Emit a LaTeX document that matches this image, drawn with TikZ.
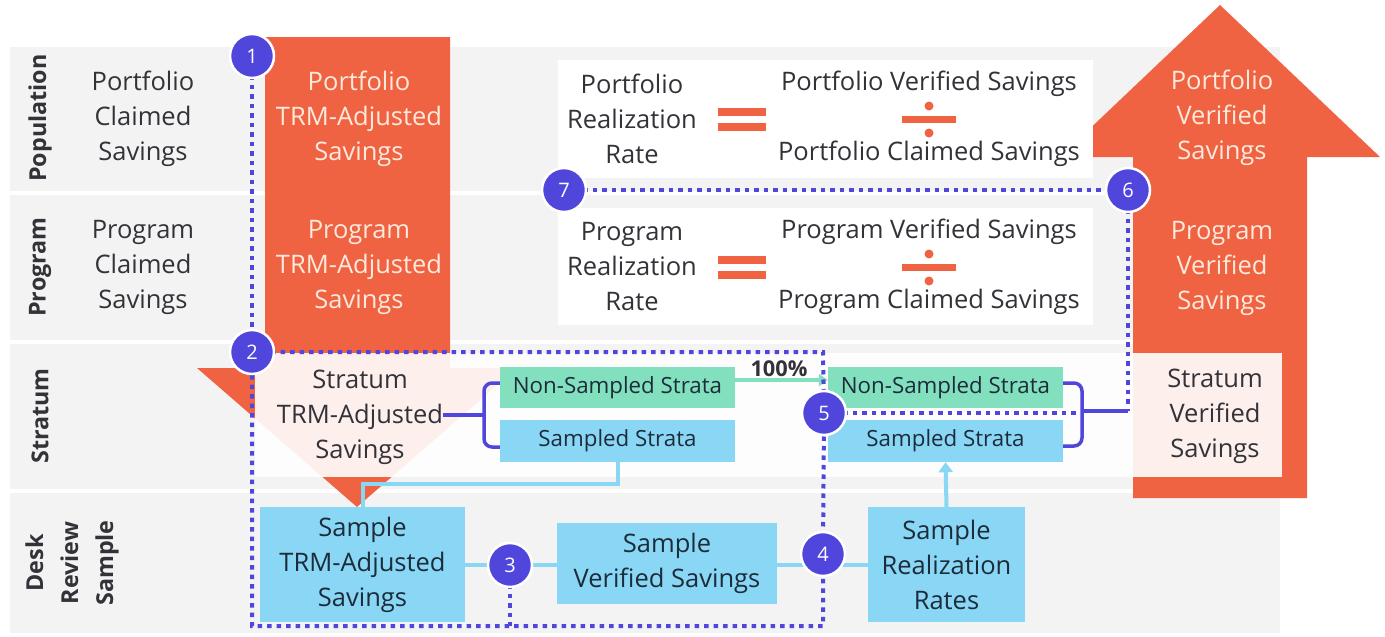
\documentclass[tikz,border=0pt]{standalone}
\usepackage{fontspec}
\setmainfont{Open Sans}
\usetikzlibrary{arrows.meta}
\definecolor{bandgray}{RGB}{243,243,243}
\definecolor{orng}{RGB}{239,99,67}
\definecolor{cream}{RGB}{253,234,220}
\definecolor{purp}{RGB}{80,70,220}
\definecolor{mint}{RGB}{130,224,190}
\definecolor{lblue}{RGB}{137,214,245}
\definecolor{txtdark}{RGB}{50,50,56}
\definecolor{navy}{RGB}{28,44,58}
\begin{document}
\begin{tikzpicture}[x=1pt,y=-1pt,
  txt/.style={align=center,inner sep=0pt,text=txtdark,font=\fontsize{25.5}{35}\selectfont},
  wtxt/.style={txt,text=cream},
  rowlab/.style={align=center,inner sep=0pt,text=txtdark,rotate=90,font=\fontsize{23.3}{35}\selectfont\bfseries},
  bbox/.style={txt,text=navy,fill=lblue,minimum width=#1},
  sbox/.style={bbox=#1,font=\fontsize{22.3}{30}\selectfont},
  gbox/.style={sbox=#1,fill=mint},
  num/.style={circle,fill=purp,draw=white,line width=2.5pt,minimum size=44pt,inner sep=0pt,text=white,font=\fontsize{20}{20}\selectfont},
  dots/.style={purp,line width=4pt,dash pattern=on 4.5pt off 5pt},
  conn/.style={lblue,line width=4pt},
  brace/.style={purp,line width=3.5pt,rounded corners=8pt}
]
\useasboundingbox (0,0) rectangle (1385,637);
\fill[white] (0,0) rectangle (1385,637);
% bands
\fill[bandgray] (10,47) rectangle (1280,191);
\fill[bandgray] (10,195) rectangle (1280,340);
\fill[bandgray] (10,344) rectangle (1280,489);
\fill[bandgray] (10,493) rectangle (1280,633);
% orange down arrow
\fill[orng] (265,37) -- (450,37) -- (450,368) -- (517,368) -- (357,507) -- (197,368) -- (265,368) -- cycle;
% orange up arrow
\fill[orng] (1133,498) -- (1133,157) -- (1060,157) -- (1220,5) -- (1380,157) -- (1307,157) -- (1307,498) -- cycle;
% formula boxes
\fill[white] (558,60) rectangle (1093,178);
\fill[white] (558,208) rectangle (1093,325);
% stratum overlay
\fill[white,opacity=0.9] (255,353) rectangle (1282,477);
% row labels
\node[rowlab] (lpop) at (40,118) {Population};
\node[rowlab] (lprog) at (40,267) {Program};
\node[rowlab] (lstr) at (40,416) {Stratum};
\node[rowlab] (ldesk) at (72,563) {Desk\\Review\\Sample};
% column texts
\node[txt] (pcs) at (143,119) {Portfolio\\Claimed\\Savings};
\node[txt] (prcs) at (143,267) {Program\\Claimed\\Savings};
\node[wtxt] (ptrm) at (359,119) {Portfolio\\TRM-Adjusted\\Savings};
\node[wtxt] (prtrm) at (359,267) {Program\\TRM-Adjusted\\Savings};
\node[txt] (strm) at (360,417) {Stratum\\TRM-Adjusted\\Savings};
\node[wtxt] (pvs) at (1222,118) {Portfolio\\Verified\\Savings};
\node[wtxt] (prvs) at (1222,268) {Program\\Verified\\Savings};
\node[txt] (svs) at (1215,416) {Stratum\\Verified\\Savings};
% formulas
\node[txt] (prr) at (632,119) {Portfolio\\Realization\\Rate};
\node[txt] (pvnum) at (929,84) {Portfolio Verified Savings};
\node[txt] (pvden) at (929,154) {Portfolio Claimed Savings};
\node[txt] (grr) at (632,267) {Program\\Realization\\Rate};
\node[txt] (gvnum) at (929,232) {Program Verified Savings};
\node[txt] (gvden) at (929,302) {Program Claimed Savings};
\foreach \yy in {0,148}{
  \fill[orng] (718,108+\yy) rectangle (766,116+\yy);
  \fill[orng] (718,123+\yy) rectangle (766,131+\yy);
  \fill[orng] (902,116+\yy) rectangle (956,123+\yy);
  \fill[orng] (929,106+\yy) circle (4.5);
  \fill[orng] (929,133+\yy) circle (4.5);
}
% stratum boxes
\node[gbox=235pt,minimum height=41pt] (ns1) at (617.5,387.5) {Non-Sampled Strata};
\node[sbox=235pt,minimum height=42pt] (ss1) at (617.5,441) {Sampled Strata};
\node[gbox=235pt,minimum height=41pt] (ns2) at (945.5,387.5) {Non-Sampled Strata};
\node[sbox=235pt,minimum height=42pt] (ss2) at (945.5,441) {Sampled Strata};
% desk boxes
\node[bbox=205pt,minimum height=115pt] (stb) at (362.5,564.5) {Sample\\TRM-Adjusted\\Savings};
\node[bbox=220pt,minimum height=81pt] (svb) at (667,563.5) {Sample\\Verified Savings};
\node[bbox=157pt,minimum height=115pt] (srb) at (946.5,564.5) {Sample\\Realization\\Rates};
% braces
\coordinate (bt1) at (484,415);
\coordinate (bt2) at (1082,411);
\draw[brace] (ns1.west |- 0,383) -- (484,383) -- (bt1) -- (484,447) -- (ss1.west |- 0,447);
\draw[purp,line width=3.5pt] (strm.east |- bt1) -- (bt1);
\draw[brace] (ns2.east |- 0,383) -- (1082,383) -- (bt2) -- (1082,446) -- (ss2.east |- 0,446);
\coordinate (c6foot) at (1128,411);
\draw[purp,line width=3.5pt] (bt2) -- (c6foot);
% 100% arrow
\draw[mint,line width=4pt,-{Triangle[length=9pt,width=12pt]}] (ns1.east |- 0,380) -- (ns2.west |- 0,380);
\node[inner sep=0pt,text=txtdark,font=\fontsize{21.8}{22}\selectfont\bfseries] (pct) at (779,369) {100\%};
% blue connectors
\coordinate (k1) at (618,484);
\coordinate (k2) at (363,484);
\draw[conn] (ss1.south -| k1) -- (k1) -- (k2) -- (stb.north -| k2);
\draw[conn,-{Triangle[length=10pt,width=14pt]}] (srb.north) -- (ss2.south);
% circles positions
\coordinate (p1) at (252,56);
\coordinate (p2) at (252,352);
\coordinate (p3) at (510,565);
\coordinate (p4) at (823,554);
\coordinate (p5) at (824,413);
\coordinate (p6) at (1128,190);
\coordinate (p7) at (564,190);
\coordinate (tr) at (823,352);
\coordinate (br) at (823,626);
\coordinate (bl) at (252,626);
\draw[conn] (stb.east |- p3) -- (p3) -- (svb.west |- p3);
\draw[conn] (svb.east |- 0,565) -- (p4 |- 0,565) -- (srb.west |- 0,565);
% dotted route
\draw[dots] (p1) -- (p2);
\draw[dots] (p2) -- (tr) -- (p5) -- (p4) -- (br) -- (bl) -- (p2);
\draw[dots] (p3) -- (p3 |- bl);
\draw[dots] (p5) -- (1078,413);
\draw[dots] (p7) -- (p6);
\draw[dots] (p6) -- (c6foot);
% circles
\node[num] (n1) at (p1) {1};
\node[num] (n2) at (p2) {2};
\node[num] (n3) at (p3) {3};
\node[num] (n4) at (p4) {4};
\node[num] (n5) at (p5) {5};
\node[num] (n6) at (p6) {6};
\node[num] (n7) at (p7) {7};
\end{tikzpicture}
\end{document}
